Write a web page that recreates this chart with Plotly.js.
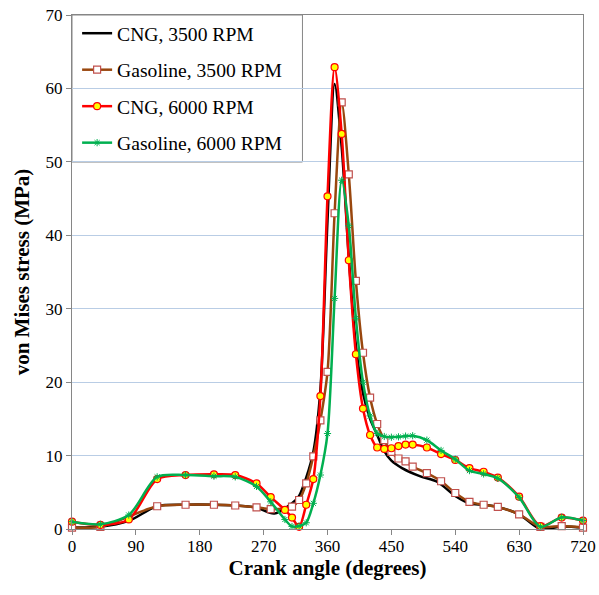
<!DOCTYPE html>
<html>
<head>
<meta charset="utf-8">
<script src="https://cdn.plot.ly/plotly-3.0.1.min.js"></script>
<style>html,body{margin:0;padding:0;background:#fff;}#chart{width:599px;height:595px;}</style>
</head>
<body>
<div id="chart"></div>
<script>
// Crank angle (degrees) and von Mises stress (MPa) per series
const cng3500X = [0, 40, 80, 120, 160, 200, 230, 260, 285, 310, 320, 330, 340, 350, 360, 370, 380, 390, 400, 410, 420, 430, 440, 450, 465, 490, 515, 540, 560, 580, 600, 630, 660, 690, 720];
const cng3500Y = [0.2, 0.3, 1.1, 3.1, 3.3, 3.3, 3.2, 2.9, 2.1, 3.5, 4.5, 7.0, 10.5, 19.0, 42.0, 60.6, 52.0, 37.0, 25.0, 18.5, 15.0, 12.8, 10.6, 9.3, 8.3, 7.2, 6.4, 4.5, 3.5, 3.3, 3.0, 2.0, 0.0, 0.35, 0.2];

const gas3500X = [0, 40, 120, 160, 200, 230, 260, 280, 310, 320, 330, 340, 350, 360, 370, 380, 390, 400, 410, 420, 430, 440, 450, 460, 470, 480, 500, 520, 540, 560, 580, 600, 630, 660, 690, 720];
const gas3500Y = [0.2, 0.3, 3.1, 3.3, 3.3, 3.2, 2.95, 2.7, 3.05, 3.95, 6.2, 9.9, 14.8, 21.4, 43.0, 58.1, 48.3, 33.8, 24.0, 17.9, 14.3, 12.1, 10.5, 9.6, 9.2, 8.5, 7.6, 6.5, 4.9, 3.7, 3.3, 3.0, 2.0, 0.3, 0.4, 0.2];

const cng6000X = [0, 40, 80, 120, 160, 200, 230, 260, 280, 300, 310, 320, 330, 340, 350, 360, 370, 380, 390, 400, 410, 420, 430, 440, 450, 460, 470, 480, 500, 520, 540, 560, 580, 600, 630, 660, 690, 720];
const cng6000Y = [1.0, 0.55, 1.3, 6.8, 7.35, 7.45, 7.35, 6.2, 4.35, 2.6, 1.55, 0.3, 3.3, 6.8, 18.1, 45.3, 62.9, 53.8, 36.6, 23.8, 16.4, 12.8, 11.1, 10.9, 11.0, 11.3, 11.5, 11.5, 11.1, 10.2, 9.4, 8.3, 7.8, 7.0, 4.4, 0.4, 1.55, 1.15];

const gas6000X = [0, 40, 80, 120, 160, 200, 230, 260, 280, 300, 310, 320, 330, 340, 350, 360, 370, 380, 390, 400, 410, 420, 430, 440, 450, 460, 470, 480, 500, 520, 540, 560, 580, 600, 630, 660, 690, 720];
const gas6000Y = [1.0, 0.65, 1.9, 7.1, 7.35, 7.2, 7.1, 5.8, 3.7, 1.3, 0.35, 0.4, 0.85, 3.5, 7.35, 13.0, 31.4, 47.5, 41.3, 28.7, 20.0, 15.4, 13.0, 12.6, 12.5, 12.55, 12.65, 12.7, 12.1, 10.7, 9.5, 7.95, 7.5, 6.9, 4.3, 0.3, 1.6, 1.15];

const seriesNames = ["CNG, 3500 RPM", "Gasoline, 3500 RPM", "CNG, 6000 RPM", "Gasoline, 6000 RPM"];
const xTicks = [0, 90, 180, 270, 360, 450, 540, 630, 720];
const yTicks = [0, 10, 20, 30, 40, 50, 60, 70];

const serif = "Liberation Serif, Times New Roman, serif";

const traces = [
  {x: cng3500X, y: cng3500Y, name: seriesNames[0], mode: "lines", legendgroup: "a",
   line: {color: "#000000", width: 2.5, shape: "spline", smoothing: 0.8}},
  {x: gas3500X, y: gas3500Y, name: seriesNames[1], mode: "lines+markers", legendgroup: "b",
   line: {color: "#99470E", width: 2.5, shape: "spline", smoothing: 0.8},
   marker: {symbol: "square", size: 7, color: "#ffffff", line: {color: "#C0504D", width: 1.2}}},
  {x: cng6000X, y: cng6000Y, name: seriesNames[2], mode: "lines+markers", legendgroup: "c",
   line: {color: "#FF0000", width: 2.5, shape: "spline", smoothing: 0.8},
   marker: {symbol: "circle", size: 7, color: "#FFFF00", line: {color: "#FF0000", width: 1.2}}},
  {x: gas6000X, y: gas6000Y, name: seriesNames[3], mode: "lines+markers", legendgroup: "d",
   line: {color: "#00B050", width: 2.5, shape: "spline", smoothing: 0.8},
   marker: {symbol: "asterisk-open", size: 6, color: "#00B050", line: {color: "#00B050", width: 1}}}
];
traces.forEach(t => t.cliponaxis = false);

const layout = {
  width: 599, height: 595,
  margin: {l: 72, r: 16, t: 15, b: 66},
  paper_bgcolor: "#ffffff", plot_bgcolor: "#ffffff",
  font: {family: serif, color: "#000000", size: 17},
  showlegend: true,
  legend: {x: 0.01, y: 1.002, xanchor: "left", yanchor: "top", bgcolor: "rgba(0,0,0,0)",
    borderwidth: 0, font: {family: serif, size: 19.6, color: "#000"},
    tracegroupgap: 8, traceorder: "grouped"},
  shapes: [{type: "rect", xref: "paper", yref: "paper", x0: 0, x1: 0.451, y0: 0.714, y1: 1,
    line: {color: "#868686", width: 1}, fillcolor: "#ffffff", layer: "between"}],
  xaxis: {range: [0, 720], tickvals: xTicks, ticktext: xTicks.map(String),
    showgrid: false, zeroline: false, showline: true, mirror: true, linecolor: "#868686", linewidth: 1,
    ticks: "outside", ticklen: 5, tickcolor: "#868686", ticklabelstandoff: -3,
    tickfont: {family: serif, size: 17, color: "#000"},
    title: {text: "<b>Crank angle (degrees)</b>", font: {family: serif, size: 21, color: "#000"}, standoff: 2}},
  yaxis: {range: [0, 70], tickvals: yTicks, ticktext: yTicks.map(String),
    showgrid: true, gridcolor: "#B9CDE5", gridwidth: 1, zeroline: false,
    showline: true, mirror: true, linecolor: "#868686", linewidth: 1,
    ticks: "outside", ticklen: 5, tickcolor: "#868686",
    tickfont: {family: serif, size: 17, color: "#000"},
    title: {text: "<b>von Mises stress (MPa)</b>", font: {family: serif, size: 21, color: "#000"}, standoff: 10}}
};

Plotly.newPlot("chart", traces, layout, {displayModeBar: false, staticPlot: true});
</script>
</body>
</html>
